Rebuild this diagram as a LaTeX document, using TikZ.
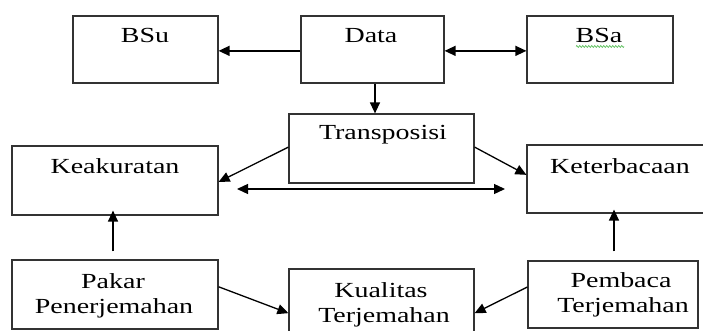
\documentclass[tikz,border=0pt]{standalone}
\usepackage{fontspec}
\setmainfont{Liberation Serif}
\usetikzlibrary{arrows.meta,calc,decorations.pathmorphing}
\newcommand\sxt[1]{\scalebox{1.3}[1]{#1}}
\begin{document}
\begin{tikzpicture}[x=1pt,y=-1pt,
  box/.style={draw=black!80,line width=1.2pt,inner sep=0pt,fill=none},
  txt/.style={anchor=base,inner sep=0pt,font=\fontsize{21.5}{25}\selectfont},
  arr/.style={line width=1.3pt,-{Triangle[length=11pt,width=10pt]}},
  darr/.style={line width=1.3pt,{Triangle[length=11pt,width=10pt]}-{Triangle[length=11pt,width=10pt]}}]
\clip (0,0) rectangle (703,331);
% boxes
\node[box,minimum width=145pt,minimum height=67pt] (bsu) at (145.5,49.5) {};
\node[box,minimum width=143pt,minimum height=67pt] (data) at (372.5,49.5) {};
\node[box,minimum width=146pt,minimum height=67pt] (bsa) at (600,49.5) {};
\node[box,minimum width=185pt,minimum height=69pt] (trans) at (381.5,148.5) {};
\node[box,minimum width=206pt,minimum height=69pt] (keak) at (115,180.5) {};
\node[box,minimum width=188pt,minimum height=68pt] (keter) at (621,179) {};
\node[box,minimum width=206pt,minimum height=69pt] (pakar) at (115,294.5) {};
\node[box,minimum width=185pt,minimum height=76pt] (kual) at (381.5,307) {};
\node[box,minimum width=170pt,minimum height=67pt] (pemb) at (613,294.5) {};
% texts
\node[txt] (tbsu) at (145,43) {\sxt{BSu}};
\node[txt] (tdata) at (371,43) {\sxt{Data}};
\node[txt] (tbsa) at (599,43) {\sxt{BSa}};
\node[txt] (ttrans) at (383,140) {\sxt{Transposisi}};
\node[txt] (tkeak) at (115,173) {\sxt{Keakuratan}};
\node[txt] (tketer) at (620,173) {\sxt{Keterbacaan}};
\node[txt] (tpak1) at (113,288) {\sxt{Pakar}};
\node[txt] (tpak2) at (114,313) {\sxt{Penerjemahan}};
\node[txt] (tkual1) at (381,297) {\sxt{Kualitas}};
\node[txt] (tkual2) at (384,322) {\sxt{Terjemahan}};
\node[txt] (tpem1) at (621,287) {\sxt{Pembaca}};
\node[txt] (tpem2) at (623,312) {\sxt{Terjemahan}};
% green squiggle under BSa
\draw[green!60!black!70,line width=0.6pt,decorate,decoration={zigzag,segment length=3pt,amplitude=1pt}] (576,46.5) -- (624,46.5);
% connectors
\draw[arr] ($(data.north west)!0.52!(data.south west)$) -- ($(bsu.north east)!0.52!(bsu.south east)$);
\draw[darr] ($(data.north east)!0.52!(data.south east)$) -- ($(bsa.north west)!0.52!(bsa.south west)$);
\draw[arr] (data.south -| 375,0) -- (trans.north -| 375,0);
\draw[arr] ($(trans.north west)!0.48!(trans.south west)$) -- ($(keak.north east)!0.52!(keak.south east)$);
\draw[arr] ($(trans.north east)!0.48!(trans.south east)$) -- ($(keter.north west)!0.44!(keter.south west)$);
\coordinate (dl) at (237,189);
\coordinate (dr) at (505,189);
\draw[darr] (dl) -- (dr);
\draw[arr,shorten >=-5pt] ([yshift=8pt]pakar.north -| 113,0) -- (keak.south -| 113,0);
\draw[arr,shorten >=-4pt] ([yshift=9pt]pemb.north -| 614,0) -- (keter.south -| 614,0);
\draw[arr] ($(pakar.north east)!0.39!(pakar.south east)$) -- ($(kual.north west)!0.58!(kual.south west)$);
\draw[arr] ($(pemb.north west)!0.39!(pemb.south west)$) -- ($(kual.north east)!0.58!(kual.south east)$);
\end{tikzpicture}
\end{document}
